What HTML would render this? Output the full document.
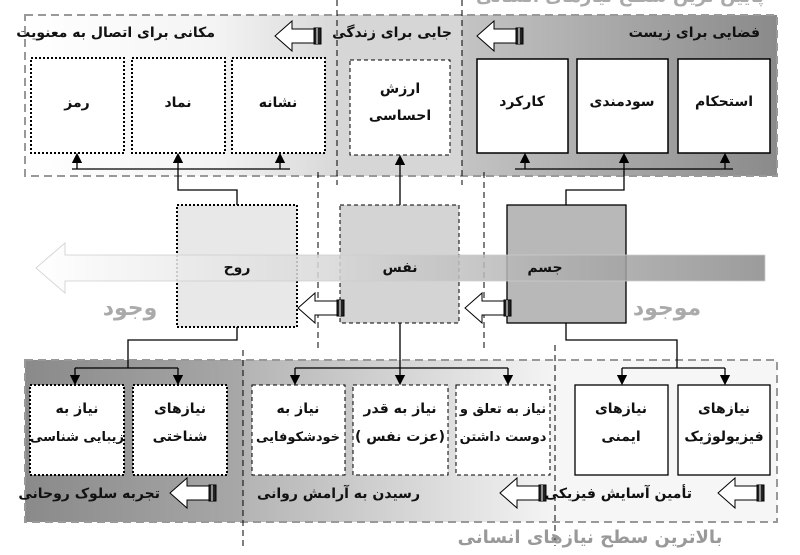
<!DOCTYPE html>
<html><head><meta charset="utf-8"><style>
html,body{margin:0;padding:0;background:#fff;width:800px;height:555px;overflow:hidden}
svg text{font-family:"DejaVu Sans","Liberation Sans",sans-serif;font-weight:bold;font-size:14px;fill:#111}
</style></head><body>
<svg width="800" height="555" viewBox="0 0 800 555" xmlns="http://www.w3.org/2000/svg">
<defs>
<linearGradient id="gTopL" x1="0" x2="1"><stop offset="0" stop-color="#fff"/><stop offset="0.6" stop-color="#f4f4f4"/><stop offset="1" stop-color="#d8d8d8"/></linearGradient>
<linearGradient id="gTopR" x1="0" x2="1"><stop offset="0" stop-color="#c4c4c4"/><stop offset="1" stop-color="#8a8a8a"/></linearGradient>
<linearGradient id="gBand" x1="0" x2="1"><stop offset="0" stop-color="#fff"/><stop offset="0.4" stop-color="#d8d8d8"/><stop offset="1" stop-color="#8a8a8a"/></linearGradient>
<linearGradient id="gBotL" x1="0" x2="1"><stop offset="0" stop-color="#8a8a8a"/><stop offset="1" stop-color="#a8a8a8"/></linearGradient>
<linearGradient id="gBotM" x1="0" x2="1"><stop offset="0" stop-color="#b4b4b4"/><stop offset="1" stop-color="#f4f4f4"/></linearGradient>
<marker id="ah" markerWidth="8" markerHeight="8" refX="4" refY="4" orient="auto"><path d="M0,0 L8,4 L0,8 z" fill="#000"/></marker>
<g id="ha" stroke="#000" stroke-width="1" fill="#fff">
<path d="M298,308 L315,293 L315,301 L337,301 L337,315 L315,315 L315,323 Z"/>
<rect x="337" y="300" width="7" height="16" fill="#222"/>
<line x1="340" y1="300" x2="340" y2="316" stroke="#fff"/>
</g>
</defs>

<text x="620" y="2" text-anchor="middle" style="fill:#aaa;font-size:18px">پایین ترین سطح نیازهای انسانی</text>

<rect x="25" y="15" width="313" height="161" fill="url(#gTopL)"/>
<rect x="338" y="15" width="124" height="161" fill="#d6d6d6"/>
<rect x="462" y="15" width="315" height="161" fill="url(#gTopR)"/>
<rect x="25" y="15" width="752" height="161" fill="none" stroke="#999" stroke-width="2" stroke-dasharray="8,5"/>
<line x1="337" y1="0" x2="337" y2="185" stroke="#000" stroke-dasharray="6,4"/>
<line x1="462" y1="0" x2="462" y2="185" stroke="#000" stroke-dasharray="6,4"/>

<text x="215" y="37" text-anchor="end">مکانی برای اتصال به معنویت</text>
<text x="452" y="37" text-anchor="end">جایی برای زندگی</text>
<text x="760" y="37" text-anchor="end">فضایی برای زیست</text>

<g stroke="#000" stroke-width="2" stroke-dasharray="2,2" fill="#fff">
<rect x="31" y="58" width="93" height="95"/><rect x="132" y="58" width="93" height="95"/><rect x="232" y="58" width="93" height="95"/>
</g>
<rect x="350" y="60" width="100" height="95" fill="#fff" stroke="#000" stroke-dasharray="4,3"/>
<g stroke="#000" stroke-width="1.5" fill="#fff">
<rect x="477" y="59" width="91" height="94"/><rect x="577" y="59" width="91" height="94"/><rect x="678" y="59" width="92" height="94"/>
</g>
<g text-anchor="middle">
<text x="77" y="107">رمز</text>
<text x="178" y="107">نماد</text>
<text x="278" y="107">نشانه</text>
<text x="400" y="93">ارزش</text>
<text x="400" y="120">احساسی</text>
<text x="522" y="106">کارکرد</text>
<text x="622" y="106">سودمندی</text>
<text x="724" y="106">استحکام</text>
</g>

<g stroke="#000" stroke-width="1.3" fill="none">
<line x1="72" y1="169" x2="290" y2="169"/>
<line x1="77" y1="169" x2="77" y2="158" marker-end="url(#ah)"/>
<line x1="178" y1="169" x2="178" y2="158" marker-end="url(#ah)"/>
<line x1="280" y1="169" x2="280" y2="158" marker-end="url(#ah)"/>
<polyline points="178,169 178,190 237,190 237,205"/>
<line x1="400" y1="205" x2="400" y2="160" marker-end="url(#ah)"/>
<line x1="515" y1="169" x2="733" y2="169"/>
<line x1="525" y1="169" x2="525" y2="158" marker-end="url(#ah)"/>
<line x1="624" y1="169" x2="624" y2="158" marker-end="url(#ah)"/>
<line x1="725" y1="169" x2="725" y2="158" marker-end="url(#ah)"/>
<polyline points="624,169 624,190 566,190 566,205"/>
</g>

<line x1="318" y1="172" x2="318" y2="352" stroke="#000" stroke-dasharray="6,4"/>
<line x1="484" y1="172" x2="484" y2="352" stroke="#000" stroke-dasharray="6,4"/>
<rect x="177" y="205" width="120" height="122" fill="#e8e8e8" stroke="#000" stroke-width="2" stroke-dasharray="2,2"/>
<rect x="340" y="205" width="119" height="118" fill="#d4d4d4" stroke="#000" stroke-dasharray="4,3"/>
<rect x="507" y="205" width="119" height="118" fill="#b8b8b8" stroke="#000" stroke-width="1.3"/>
<path d="M765,255 L65,255 L65,243 L36,268 L65,293 L65,281 L765,281 Z" fill="url(#gBand)" fill-opacity="0.85" stroke="#ccc" stroke-width="0.8"/>
<text x="237" y="272" text-anchor="middle">روح</text>
<text x="400" y="272" text-anchor="middle">نفس</text>
<text x="545" y="272" text-anchor="middle">جسم</text>
<text x="130" y="315" text-anchor="middle" style="fill:#aaa;font-size:22px">وجود</text>
<text x="667" y="315" text-anchor="middle" style="fill:#aaa;font-size:22px">موجود</text>

<rect x="25" y="360" width="218" height="162" fill="url(#gBotL)"/>
<rect x="243" y="360" width="312" height="162" fill="url(#gBotM)"/>
<rect x="555" y="360" width="222" height="162" fill="#f6f6f6"/>
<rect x="25" y="360" width="752" height="162" fill="none" stroke="#999" stroke-width="2" stroke-dasharray="8,5"/>
<line x1="243" y1="350" x2="243" y2="546" stroke="#000" stroke-dasharray="6,4"/>
<line x1="555" y1="345" x2="555" y2="546" stroke="#000" stroke-dasharray="6,4"/>

<g stroke="#000" stroke-width="1.3" fill="none">
<polyline points="237,327 237,340 128,340 128,368"/>
<line x1="75" y1="368" x2="178" y2="368"/>
<line x1="75" y1="368" x2="75" y2="380" marker-end="url(#ah)"/>
<line x1="178" y1="368" x2="178" y2="380" marker-end="url(#ah)"/>
<line x1="400" y1="323" x2="400" y2="380" marker-end="url(#ah)"/>
<line x1="295" y1="368" x2="508" y2="368"/>
<line x1="295" y1="368" x2="295" y2="380" marker-end="url(#ah)"/>
<line x1="508" y1="368" x2="508" y2="380" marker-end="url(#ah)"/>
<polyline points="566,323 566,340 677,340 677,368"/>
<line x1="622" y1="368" x2="725" y2="368"/>
<line x1="622" y1="368" x2="622" y2="380" marker-end="url(#ah)"/>
<line x1="725" y1="368" x2="725" y2="380" marker-end="url(#ah)"/>
</g>

<g stroke="#000" stroke-width="2" stroke-dasharray="2,2" fill="#fff">
<rect x="30" y="385" width="94" height="90"/><rect x="133" y="385" width="94" height="90"/>
</g>
<g stroke="#000" stroke-dasharray="4,3" fill="#fff">
<rect x="252" y="385" width="93" height="90"/><rect x="353" y="385" width="95" height="90"/><rect x="456" y="385" width="94" height="90"/>
</g>
<g stroke="#000" stroke-width="1.3" fill="#fff">
<rect x="575" y="385" width="93" height="90"/><rect x="678" y="385" width="92" height="90"/>
</g>
<g text-anchor="middle">
<text x="77" y="413">نیاز به</text><text x="77" y="441" style="font-size:13px">زیبایی شناسی</text>
<text x="180" y="413">نیازهای</text><text x="180" y="441">شناختی</text>
<text x="298" y="413">نیاز به</text><text x="298" y="441" style="font-size:13px">خودشکوفایی</text>
<text x="400" y="413">نیاز به قدر</text><text x="400" y="441" direction="rtl">(عزت نفس )</text>
<text x="503" y="413" style="font-size:13px">نیاز به تعلق و</text><text x="503" y="441" style="font-size:13px">دوست داشتن</text>
<text x="621" y="413">نیازهای</text><text x="621" y="441">ایمنی</text>
<text x="724" y="413">نیازهای</text><text x="724" y="441">فیزیولوژیک</text>
</g>
<text x="160" y="498" text-anchor="end">تجربه سلوک روحانی</text>
<text x="420" y="498" text-anchor="end">رسیدن به آرامش روانی</text>
<text x="692" y="498" text-anchor="end">تأمین آسایش فیزیکی</text>

<text x="590" y="543" text-anchor="middle" style="fill:#999;font-size:18px">بالاترین سطح نیازهای انسانی</text>

<use href="#ha"/>
<use href="#ha" x="167"/>
<use href="#ha" x="-23" y="-272"/>
<use href="#ha" x="179" y="-272"/>
<use href="#ha" x="-128" y="185"/>
<use href="#ha" x="202" y="185"/>
<use href="#ha" x="420" y="185"/>
</svg>
</body></html>
